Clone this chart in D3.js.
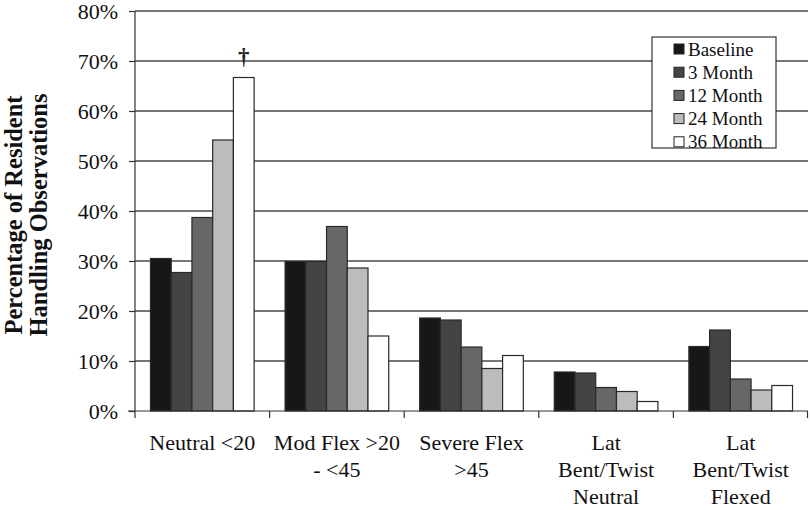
<!DOCTYPE html>
<html><head><meta charset="utf-8">
<script src="https://cdn.jsdelivr.net/npm/d3@7"></script>
<style>body{margin:0;background:#fff}svg{display:block}</style>
</head><body>
<script>
const categories = [["Neutral <20"], ["Mod Flex >20", "- <45"], ["Severe Flex", ">45"], ["Lat", "Bent/Twist", "Neutral"], ["Lat", "Bent/Twist", "Flexed"]];
const seriesNames = ["Baseline", "3 Month", "12 Month", "24 Month", "36 Month"];
const baseline = [30.5, 29.9, 18.6, 7.8, 12.9];
const month3 = [27.7, 29.9, 18.2, 7.6, 16.2];
const month12 = [38.7, 36.9, 12.8, 4.7, 6.4];
const month24 = [54.2, 28.6, 8.5, 3.9, 4.2];
const month36 = [66.7, 15.0, 11.1, 1.9, 5.1];
const yTicks = [0, 10, 20, 30, 40, 50, 60, 70, 80];
const colors = ["#171717", "#444444", "#676767", "#bcbcbc", "#ffffff"];
const series = [baseline, month3, month12, month24, month36];

const W = 810, H = 510;
const m = {left: 135, right: 2, top: 11, bottom: 99};
const svg = d3.select("body").append("svg").attr("width", W).attr("height", H)
  .style("font-family", "'Liberation Serif', 'Times New Roman', serif");

const x0 = d3.scaleBand().domain(d3.range(categories.length)).range([m.left, W - m.right]).paddingInner(0.23).paddingOuter(0.115);
const xCat = d3.scaleBand().domain(d3.range(categories.length)).range([m.left, W - m.right]);
const x1 = d3.scaleBand().domain(d3.range(series.length)).range([0, x0.bandwidth()]);
const y = d3.scaleLinear().domain([0, 80]).range([H - m.bottom, m.top]);

// gridlines
svg.append("g").selectAll("line").data(yTicks.filter(d => d > 0)).join("line")
  .attr("x1", m.left).attr("x2", W - m.right)
  .attr("y1", d => y(d)).attr("y2", d => y(d))
  .attr("stroke", "#4a4a4a").attr("stroke-width", 1.3);

// bars
const g = svg.append("g");
categories.forEach((c, i) => {
  series.forEach((s, j) => {
    g.append("rect")
      .attr("x", x0(i) + x1(j))
      .attr("y", y(s[i]))
      .attr("width", x1.bandwidth())
      .attr("height", y(0) - y(s[i]))
      .attr("fill", colors[j])
      .attr("stroke", "#2a2a2a").attr("stroke-width", 1.2);
  });
});

// dagger
svg.append("text").attr("x", x0(0) + x1(4) + x1.bandwidth() / 2).attr("y", y(month36[0]) - 14)
  .attr("text-anchor", "middle").attr("font-size", 23).attr("font-weight", "bold").attr("fill", "#222").text("†");

// y axis
const yAxis = d3.axisLeft(y).tickValues(yTicks).tickFormat(d => d + "%").tickSize(6).tickPadding(11);
const ya = svg.append("g").attr("transform", `translate(${m.left},0)`).call(yAxis);
ya.select(".domain").attr("stroke", "#333").attr("stroke-width", 1.2).attr("d", `M0,${y(80)}V${y(0) + 7}`);
ya.selectAll(".tick line").attr("stroke", "#333").attr("stroke-width", 1.2);
ya.selectAll(".tick text").attr("font-size", 22).attr("fill", "#111").attr("font-family", "'Liberation Serif', serif");

// x axis
const xa = svg.append("g").attr("transform", `translate(0,${y(0)})`);
xa.append("line").attr("x1", m.left - 7).attr("x2", W - m.right).attr("y1", 0).attr("y2", 0)
  .attr("stroke", "#333").attr("stroke-width", 1.2);
xa.selectAll("line.tk").data(d3.range(1, categories.length + 1)).join("line").attr("class", "tk")
  .attr("x1", d => d < categories.length ? xCat(d) : W - m.right - 0.5)
  .attr("x2", d => d < categories.length ? xCat(d) : W - m.right - 0.5)
  .attr("y1", 0).attr("y2", 7).attr("stroke", "#333").attr("stroke-width", 1.2);
categories.forEach((c, i) => {
  const t = xa.append("text").attr("text-anchor", "middle").attr("font-size", 22).attr("fill", "#111")
    .attr("transform", `translate(${xCat(i) + xCat.bandwidth() / 2},0)`);
  c.forEach((line, k) => t.append("tspan").attr("x", 0).attr("y", 39 + k * 27).text(line));
});

// y title
const yt = svg.append("text").attr("transform", `translate(0,${(y(0) + y(80)) / 2 + 4}) rotate(-90)`)
  .attr("text-anchor", "middle").attr("font-size", 24.5).attr("font-weight", "bold").attr("fill", "#111");
yt.append("tspan").attr("x", 0).attr("y", 22).text("Percentage of Resident");
yt.append("tspan").attr("x", 0).attr("y", 47).text("Handling Observations");

// legend
const lg = svg.append("g").attr("transform", "translate(652,37)");
lg.append("rect").attr("width", 124).attr("height", 111).attr("fill", "#fff").attr("stroke", "#333").attr("stroke-width", 1.2);
seriesNames.forEach((n, j) => {
  const cy = 12 + j * 23.2;
  lg.append("rect").attr("x", 22).attr("y", cy - 5).attr("width", 10).attr("height", 10)
    .attr("fill", colors[j]).attr("stroke", "#222").attr("stroke-width", 1);
  lg.append("text").attr("x", 36).attr("y", cy + 6.5).attr("font-size", 19).attr("fill", "#111").text(n);
});
</script>
</body></html>
